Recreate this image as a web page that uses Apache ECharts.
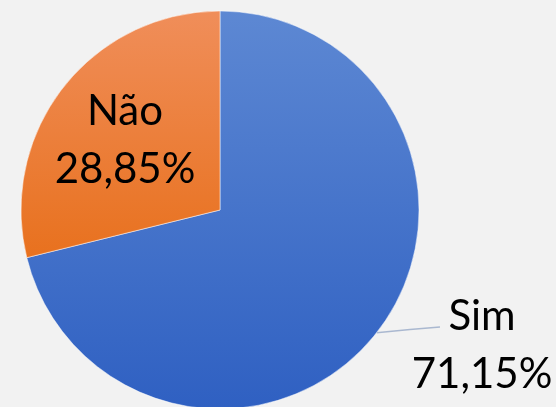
<!DOCTYPE html>
<html>
<head>
<meta charset="utf-8">
<script src="https://cdn.jsdelivr.net/npm/echarts@6/dist/echarts.min.js"></script>
<style>
  html, body { margin: 0; padding: 0; background: #f2f2f2; }
  #chart { width: 556px; height: 407px; }
</style>
</head>
<body>
<div id="chart"></div>
<script>
const categories = ['Sim', 'Não']
const values = [71.15, 28.85]

const fills = [
  ['#5d88d3', '#2f60c2'],
  ['#f08e5a', '#e8711e']
]

const myChart = echarts.init(document.getElementById('chart'))

const data = categories.map((name, i) => ({
  name: name,
  value: values[i],
  itemStyle: {
    color: {
      type: 'linear', x: 0, y: 0, x2: 0, y2: 1,
      colorStops: [
        { offset: 0, color: fills[i][0] },
        { offset: 1, color: fills[i][1] }
      ]
    }
  },
  label: i === 0
    ? { position: 'outside' }
    : { position: 'inside' },
  labelLine: { show: i === 0 }
}))

const option = {
  backgroundColor: '#f2f2f2',
  animation: false,
  series: [
    {
      type: 'pie',
      center: [220, 210],
      radius: [0, 199],
      startAngle: 90,
      clockwise: true,
      data: data,
      itemStyle: { borderColor: '#ffffff', borderWidth: 0.5 },
      label: {
        formatter: (p) => p.name + '\n' + p.value.toFixed(2).replace('.', ',') + '%',
        fontFamily: 'Lato, sans-serif',
        fontSize: 42,
        lineHeight: 58,
        color: '#000',
        align: 'center',
        overflow: 'none'
      },
      labelLine: {
        length: 10,
        length2: 50,
        lineStyle: { color: '#aab8d0', width: 1.5 }
      },
      labelLayout: (p) => {
        if (p.dataIndex === 0) {
          const start = p.labelLinePoints ? p.labelLinePoints[0] : [377, 332]
          return {
            x: 482, y: 345, align: 'center', verticalAlign: 'middle',
            labelLinePoints: [start, [410, 329.5], [440, 327]]
          }
        }
        return { x: 125, y: 140, align: 'center', verticalAlign: 'middle' }
      }
    }
  ]
}

myChart.setOption(option)
</script>
</body>
</html>
